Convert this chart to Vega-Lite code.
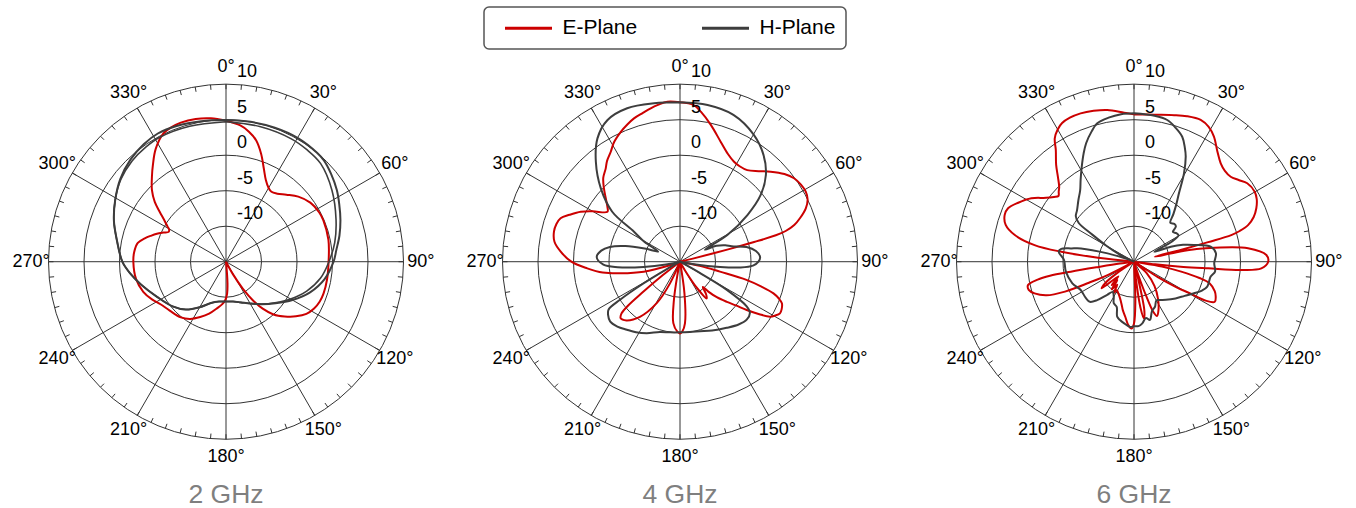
{
"$schema": "https://vega.github.io/schema/vega-lite/v6.json",
"padding": 0,
"background": "white",
"spacing": 2,
"config": {"view": {"stroke": null}, "font": "Liberation Sans", "legend": {"strokeWidth": 1.5}, "line": {"interpolate": "catmull-rom"}},
"datasets": {
"spokes": [{"angle":0},{"angle":30},{"angle":60},{"angle":90},{"angle":120},{"angle":150}],
"ticks": [{"angle":0},{"angle":5},{"angle":10},{"angle":15},{"angle":20},{"angle":25},{"angle":30},{"angle":35},{"angle":40},{"angle":45},{"angle":50},{"angle":55},{"angle":60},{"angle":65},{"angle":70},{"angle":75},{"angle":80},{"angle":85},{"angle":90},{"angle":95},{"angle":100},{"angle":105},{"angle":110},{"angle":115},{"angle":120},{"angle":125},{"angle":130},{"angle":135},{"angle":140},{"angle":145},{"angle":150},{"angle":155},{"angle":160},{"angle":165},{"angle":170},{"angle":175},{"angle":180},{"angle":185},{"angle":190},{"angle":195},{"angle":200},{"angle":205},{"angle":210},{"angle":215},{"angle":220},{"angle":225},{"angle":230},{"angle":235},{"angle":240},{"angle":245},{"angle":250},{"angle":255},{"angle":260},{"angle":265},{"angle":270},{"angle":275},{"angle":280},{"angle":285},{"angle":290},{"angle":295},{"angle":300},{"angle":305},{"angle":310},{"angle":315},{"angle":320},{"angle":325},{"angle":330},{"angle":335},{"angle":340},{"angle":345},{"angle":350},{"angle":355}],
"angleLabels": [{"angle":0,"label":"0°"},{"angle":30,"label":"30°"},{"angle":60,"label":"60°"},{"angle":90,"label":"90°"},{"angle":120,"label":"120°"},{"angle":150,"label":"150°"},{"angle":180,"label":"180°"},{"angle":210,"label":"210°"},{"angle":240,"label":"240°"},{"angle":270,"label":"270°"},{"angle":300,"label":"300°"},{"angle":330,"label":"330°"}],
"rings": [{"db":10,"label":"10"},{"db":5,"label":"5"},{"db":0,"label":"0"},{"db":-5,"label":"-5"},{"db":-10,"label":"-10"}],
"e2": [{"angle":0,"db":4.85},{"angle":6,"db":4.3},{"angle":10,"db":3.6},{"angle":14,"db":2.6},{"angle":18,"db":1.0},{"angle":22,"db":-0.8},{"angle":26,"db":-2.2},{"angle":30,"db":-3.0},{"angle":33,"db":-3.25},{"angle":37,"db":-3.0},{"angle":42,"db":-2.3},{"angle":48,"db":-1.3},{"angle":55,"db":-0.5},{"angle":62,"db":-0.15},{"angle":67,"db":-0.1},{"angle":78,"db":-0.25},{"angle":90,"db":-0.55},{"angle":100,"db":-0.55},{"angle":108,"db":-0.55},{"angle":113,"db":-0.65},{"angle":118,"db":-0.95},{"angle":123,"db":-1.5},{"angle":128,"db":-2.5},{"angle":133,"db":-3.7},{"angle":138,"db":-5.0},{"angle":142,"db":-6.6},{"angle":145,"db":-8.3},{"angle":148,"db":-10.5},{"angle":151,"db":-13},{"angle":155,"db":-15},{"angle":172,"db":-15},{"angle":176,"db":-12},{"angle":178,"db":-10.5},{"angle":181,"db":-9.6},{"angle":185,"db":-9.0},{"angle":191,"db":-8.3},{"angle":198,"db":-7.3},{"angle":205,"db":-6.4},{"angle":212,"db":-5.5},{"angle":219,"db":-4.9},{"angle":229,"db":-4.5},{"angle":237,"db":-4.0},{"angle":243,"db":-3.3},{"angle":250,"db":-2.6},{"angle":259,"db":-2.1},{"angle":270,"db":-1.95},{"angle":276,"db":-2.0},{"angle":282,"db":-2.3},{"angle":286,"db":-3.1},{"angle":289,"db":-3.8},{"angle":292,"db":-4.5},{"angle":295,"db":-5.3},{"angle":297.5,"db":-5.9},{"angle":299.5,"db":-5.8},{"angle":301,"db":-5.4},{"angle":304,"db":-4.5},{"angle":307,"db":-3.3},{"angle":310,"db":-1.9},{"angle":314,"db":-0.5},{"angle":319,"db":0.9},{"angle":323,"db":2.1},{"angle":328,"db":3.7},{"angle":334,"db":5.1},{"angle":338,"db":5.45},{"angle":342,"db":5.6},{"angle":348,"db":5.55},{"angle":354,"db":5.3},{"angle":360,"db":4.85}],
"h2a": [{"angle":0,"db":4.95},{"angle":10,"db":5.0},{"angle":20,"db":5.1},{"angle":30,"db":5.15},{"angle":40,"db":5.0},{"angle":44,"db":4.85},{"angle":50,"db":4.3},{"angle":57,"db":3.6},{"angle":63,"db":2.9},{"angle":70,"db":2.15},{"angle":77,"db":1.4},{"angle":84,"db":0.62},{"angle":90,"db":0.15},{"angle":100,"db":-0.9},{"angle":110,"db":-2.4},{"angle":120,"db":-4.2},{"angle":130,"db":-5.9},{"angle":140,"db":-7.2},{"angle":150,"db":-8.2},{"angle":160,"db":-8.9},{"angle":170,"db":-9.3},{"angle":180,"db":-9.4},{"angle":190,"db":-9.3},{"angle":200,"db":-8.8},{"angle":210,"db":-7.6},{"angle":220,"db":-6.2},{"angle":230,"db":-5.2},{"angle":243,"db":-4.1},{"angle":255,"db":-2.6},{"angle":263,"db":-1.4},{"angle":270,"db":-0.4},{"angle":281,"db":0.65},{"angle":290,"db":1.8},{"angle":299,"db":2.85},{"angle":308,"db":3.9},{"angle":317,"db":4.7},{"angle":325,"db":5.2},{"angle":332,"db":5.45},{"angle":340,"db":5.35},{"angle":350,"db":5.1},{"angle":360,"db":4.95}],
"h2b": [{"angle":0,"db":4.72},{"angle":14,"db":4.62},{"angle":28,"db":4.6},{"angle":36,"db":4.45},{"angle":44,"db":4.2},{"angle":56,"db":3.0},{"angle":69,"db":1.6},{"angle":80,"db":0.55},{"angle":90,"db":-0.5},{"angle":100,"db":-1.5},{"angle":110,"db":-2.9},{"angle":120,"db":-4.5},{"angle":130,"db":-6.0},{"angle":140,"db":-7.2},{"angle":150,"db":-8.2},{"angle":160,"db":-8.9},{"angle":170,"db":-9.3},{"angle":180,"db":-9.4},{"angle":190,"db":-9.3},{"angle":200,"db":-8.8},{"angle":210,"db":-7.6},{"angle":220,"db":-6.2},{"angle":230,"db":-5.2},{"angle":243,"db":-4.1},{"angle":255,"db":-2.6},{"angle":263,"db":-1.4},{"angle":270,"db":-0.4},{"angle":281,"db":0.65},{"angle":290,"db":1.8},{"angle":299,"db":2.85},{"angle":308,"db":3.8},{"angle":317,"db":4.4},{"angle":325,"db":4.7},{"angle":332,"db":4.85},{"angle":345,"db":4.75},{"angle":360,"db":4.72}],
"e4": [{"angle":0,"db":7.45},{"angle":5,"db":7.15},{"angle":8,"db":6.3},{"angle":12.7,"db":4.75},{"angle":18.7,"db":2.85},{"angle":24,"db":1.6},{"angle":28.4,"db":1.0},{"angle":32,"db":0.85},{"angle":36.3,"db":1.0},{"angle":41,"db":1.9},{"angle":45.2,"db":3.0},{"angle":50,"db":4.2},{"angle":53.8,"db":4.9},{"angle":57.5,"db":5.2},{"angle":60.9,"db":5.27},{"angle":64,"db":5.0},{"angle":67,"db":4.25},{"angle":70,"db":3.0},{"angle":72.2,"db":1.9},{"angle":73.8,"db":0.5},{"angle":74.6,"db":-1.0},{"angle":75.1,"db":-4.2},{"angle":75.6,"db":-8.0},{"angle":76.5,"db":-13},{"angle":78,"db":-15},{"angle":100,"db":-15},{"angle":102,"db":-12},{"angle":104,"db":-9.2},{"angle":105.3,"db":-5.3},{"angle":107,"db":-3.0},{"angle":108.7,"db":-1.1},{"angle":110.5,"db":-0.1},{"angle":112.2,"db":0.5},{"angle":115,"db":0.8},{"angle":117.3,"db":0.85},{"angle":119.5,"db":0.4},{"angle":121.4,"db":-0.15},{"angle":123.5,"db":-1.6},{"angle":125.9,"db":-3.4},{"angle":128,"db":-5.0},{"angle":130.6,"db":-6.3},{"angle":134,"db":-7.8},{"angle":136.5,"db":-9.2},{"angle":138,"db":-10.2},{"angle":141,"db":-9.2},{"angle":144,"db":-8.6},{"angle":147,"db":-10.5},{"angle":150,"db":-13.5},{"angle":153,"db":-15},{"angle":170,"db":-15},{"angle":172,"db":-10.5},{"angle":175.4,"db":-6.3},{"angle":178,"db":-5.2},{"angle":180,"db":-4.9},{"angle":182,"db":-5.1},{"angle":186.2,"db":-6.3},{"angle":189,"db":-9.5},{"angle":191,"db":-13},{"angle":193,"db":-15},{"angle":202,"db":-15},{"angle":204.8,"db":-11.6},{"angle":209.3,"db":-8.3},{"angle":216,"db":-5.4},{"angle":222.4,"db":-3.8},{"angle":226.3,"db":-3.45},{"angle":228.5,"db":-4.0},{"angle":229.8,"db":-5.4},{"angle":230.7,"db":-8.2},{"angle":232,"db":-12},{"angle":234,"db":-15},{"angle":248,"db":-15},{"angle":250.5,"db":-13.6},{"angle":254.5,"db":-9.7},{"angle":258.9,"db":-6.5},{"angle":262,"db":-4.0},{"angle":265.9,"db":-1.9},{"angle":270,"db":0.3},{"angle":274.8,"db":1.86},{"angle":279,"db":2.9},{"angle":283.4,"db":3.25},{"angle":287,"db":3.2},{"angle":290,"db":2.9},{"angle":293,"db":1.9},{"angle":296.7,"db":0.66},{"angle":300,"db":-0.8},{"angle":304.5,"db":-2.6},{"angle":307,"db":-2.2},{"angle":310.5,"db":-1.25},{"angle":314,"db":-0.1},{"angle":317.5,"db":1.0},{"angle":321.5,"db":1.8},{"angle":324,"db":2.5},{"angle":327.8,"db":3.3},{"angle":331,"db":4.2},{"angle":335.5,"db":5.1},{"angle":339,"db":5.7},{"angle":342.2,"db":6.2},{"angle":346,"db":6.6},{"angle":349.2,"db":7.0},{"angle":352,"db":7.3},{"angle":355.5,"db":7.6},{"angle":360,"db":7.45}],
"h4": [{"angle":0,"db":7.45},{"angle":10,"db":7.4},{"angle":20,"db":7.0},{"angle":30,"db":5.7},{"angle":38,"db":4.1},{"angle":44.7,"db":2.2},{"angle":50.4,"db":-0.25},{"angle":55.3,"db":-3.45},{"angle":60.6,"db":-7.35},{"angle":64.4,"db":-11.1},{"angle":66.4,"db":-9.4},{"angle":70,"db":-8.2},{"angle":73.4,"db":-7.4},{"angle":77.6,"db":-5.4},{"angle":82,"db":-4.2},{"angle":86.6,"db":-3.7},{"angle":90,"db":-3.95},{"angle":93.1,"db":-4.7},{"angle":95.5,"db":-6.5},{"angle":97.5,"db":-9.3},{"angle":100,"db":-13},{"angle":103,"db":-15},{"angle":116,"db":-15},{"angle":119.5,"db":-11.8},{"angle":121,"db":-7.3},{"angle":123.8,"db":-3.7},{"angle":126.2,"db":-2.8},{"angle":131,"db":-2.55},{"angle":137,"db":-2.9},{"angle":144.8,"db":-3.6},{"angle":155,"db":-4.3},{"angle":164,"db":-4.8},{"angle":172,"db":-5.0},{"angle":180,"db":-5.05},{"angle":188,"db":-4.95},{"angle":196,"db":-4.7},{"angle":205,"db":-3.9},{"angle":212,"db":-3.3},{"angle":218,"db":-2.85},{"angle":224,"db":-2.3},{"angle":229.5,"db":-2.05},{"angle":233.5,"db":-2.4},{"angle":236.2,"db":-2.9},{"angle":237.6,"db":-5.0},{"angle":239.2,"db":-9.0},{"angle":240.5,"db":-12.8},{"angle":242,"db":-15},{"angle":256,"db":-15},{"angle":258.5,"db":-13},{"angle":261.8,"db":-9.8},{"angle":265,"db":-6.2},{"angle":267.8,"db":-4.2},{"angle":273.2,"db":-3.25},{"angle":278,"db":-3.8},{"angle":281.9,"db":-4.9},{"angle":286,"db":-7.0},{"angle":290.4,"db":-9.7},{"angle":295,"db":-11.6},{"angle":299,"db":-9.3},{"angle":303.1,"db":-7.27},{"angle":306.4,"db":-3.14},{"angle":312.8,"db":0.2},{"angle":319.9,"db":3.4},{"angle":326.2,"db":5.9},{"angle":332.8,"db":7.4},{"angle":341,"db":7.85},{"angle":350.7,"db":7.6},{"angle":360,"db":7.45}],
"e6": [{"angle":0,"db":5.75},{"angle":8,"db":5.9},{"angle":15.3,"db":6.4},{"angle":20,"db":6.8},{"angle":25.2,"db":7.06},{"angle":29,"db":6.7},{"angle":32.6,"db":5.9},{"angle":37,"db":4.5},{"angle":41.4,"db":3.47},{"angle":45,"db":3.1},{"angle":48.7,"db":3.13},{"angle":52,"db":3.7},{"angle":55.3,"db":4.4},{"angle":59.9,"db":4.65},{"angle":63,"db":4.4},{"angle":66.4,"db":3.8},{"angle":69.5,"db":3.0},{"angle":72.2,"db":1.87},{"angle":73.8,"db":0.5},{"angle":74.7,"db":-0.8},{"angle":75.2,"db":-4.2},{"angle":75.8,"db":-8.1},{"angle":76.5,"db":-12},{"angle":77.5,"db":-8.5},{"angle":78.5,"db":-6.0},{"angle":80.2,"db":-3.47},{"angle":83.3,"db":1.17},{"angle":87.1,"db":3.66},{"angle":90,"db":3.9},{"angle":93,"db":2.96},{"angle":94.4,"db":0.16},{"angle":95.1,"db":-4.5},{"angle":96,"db":-8},{"angle":97,"db":-12},{"angle":98.5,"db":-15},{"angle":100,"db":-11},{"angle":101.9,"db":-8.2},{"angle":104,"db":-5.5},{"angle":106,"db":-3.9},{"angle":110,"db":-2.9},{"angle":113,"db":-2.5},{"angle":116.4,"db":-2.3},{"angle":118.5,"db":-3.5},{"angle":119.5,"db":-6},{"angle":121,"db":-8},{"angle":123,"db":-11},{"angle":126,"db":-15},{"angle":132,"db":-12.6},{"angle":140,"db":-10.5},{"angle":147,"db":-8.8},{"angle":153,"db":-7.4},{"angle":157,"db":-6.7},{"angle":159,"db":-7.5},{"angle":160.5,"db":-10},{"angle":162,"db":-13},{"angle":164,"db":-15},{"angle":166,"db":-13},{"angle":168,"db":-8.0},{"angle":170,"db":-6.9},{"angle":172,"db":-8.5},{"angle":174,"db":-13},{"angle":176,"db":-15},{"angle":178,"db":-9.5},{"angle":180,"db":-6.3},{"angle":182,"db":-5.6},{"angle":185,"db":-6.0},{"angle":189,"db":-7.15},{"angle":193,"db":-8.0},{"angle":196,"db":-8.7},{"angle":201,"db":-9.5},{"angle":206,"db":-10.0},{"angle":211,"db":-10.3},{"angle":213,"db":-9.7},{"angle":216,"db":-11},{"angle":219,"db":-10},{"angle":222,"db":-11.5},{"angle":223.7,"db":-10.45},{"angle":227,"db":-12},{"angle":230.5,"db":-9.1},{"angle":233.3,"db":-9.9},{"angle":236,"db":-12},{"angle":239,"db":-15},{"angle":241,"db":-15},{"angle":243,"db":-11},{"angle":245,"db":-8},{"angle":246.6,"db":-4.4},{"angle":249,"db":-1.8},{"angle":252.3,"db":-0.3},{"angle":255,"db":0.35},{"angle":257.6,"db":0.28},{"angle":259.5,"db":-1.2},{"angle":260.5,"db":-3},{"angle":261,"db":-6},{"angle":261.5,"db":-9.8},{"angle":262.5,"db":-13},{"angle":264,"db":-15},{"angle":275,"db":-15},{"angle":276.3,"db":-9.9},{"angle":277.8,"db":-4.66},{"angle":279.5,"db":-0.8},{"angle":282.6,"db":2.2},{"angle":286,"db":3.8},{"angle":289.9,"db":4.37},{"angle":293,"db":4.27},{"angle":297,"db":3.3},{"angle":301.7,"db":2.0},{"angle":306,"db":0.3},{"angle":309,"db":-0.5},{"angle":311,"db":-0.9},{"angle":313,"db":-0.5},{"angle":315,"db":-0.1},{"angle":318,"db":1.0},{"angle":321.2,"db":2.5},{"angle":325,"db":4.2},{"angle":327.3,"db":5.66},{"angle":330,"db":6.5},{"angle":332.6,"db":7.0},{"angle":336,"db":7.2},{"angle":340.2,"db":7.2},{"angle":345,"db":7.0},{"angle":350,"db":6.7},{"angle":356.2,"db":6.03},{"angle":360,"db":5.75}],
"h6": [{"angle":0,"db":5.9},{"angle":8,"db":5.75},{"angle":13.2,"db":5.5},{"angle":17,"db":4.8},{"angle":21.1,"db":3.87},{"angle":24,"db":2.6},{"angle":26.2,"db":1.5},{"angle":29.5,"db":-0.7},{"angle":33.3,"db":-3.47},{"angle":36.5,"db":-5.0},{"angle":39.6,"db":-6.3},{"angle":43,"db":-7.5},{"angle":47,"db":-7.2},{"angle":50,"db":-7.3},{"angle":52.5,"db":-8.1},{"angle":56,"db":-7.8},{"angle":59.3,"db":-7.7},{"angle":62,"db":-9.0},{"angle":64,"db":-11.8},{"angle":67.8,"db":-9.4},{"angle":71,"db":-7.7},{"angle":74.4,"db":-6.2},{"angle":78.9,"db":-4.0},{"angle":84.1,"db":-3.4},{"angle":91,"db":-3.7},{"angle":97,"db":-3.5},{"angle":101,"db":-4.0},{"angle":108.8,"db":-4.1},{"angle":113,"db":-4.6},{"angle":117.8,"db":-5.45},{"angle":124,"db":-6.4},{"angle":131.5,"db":-7.2},{"angle":140,"db":-8.0},{"angle":146,"db":-8.5},{"angle":150,"db":-8.7},{"angle":155,"db":-8.0},{"angle":160,"db":-7.6},{"angle":164.7,"db":-6.5},{"angle":168,"db":-6.9},{"angle":172.3,"db":-6.24},{"angle":176,"db":-5.9},{"angle":180,"db":-5.9},{"angle":183.5,"db":-5.8},{"angle":189,"db":-6.2},{"angle":193.5,"db":-6.55},{"angle":197,"db":-6.9},{"angle":201,"db":-8.2},{"angle":206,"db":-8.5},{"angle":210,"db":-9.3},{"angle":215,"db":-9.8},{"angle":219,"db":-9.0},{"angle":223.8,"db":-7.5},{"angle":227.7,"db":-6.6},{"angle":232.8,"db":-6.5},{"angle":242,"db":-6.5},{"angle":250.7,"db":-5.8},{"angle":261.7,"db":-5.3},{"angle":271.4,"db":-5.14},{"angle":277.6,"db":-4.3},{"angle":280,"db":-4.6},{"angle":282,"db":-6.0},{"angle":284.1,"db":-7.3},{"angle":287.5,"db":-11.1},{"angle":291,"db":-14},{"angle":294,"db":-15},{"angle":297,"db":-12.5},{"angle":300,"db":-10.5},{"angle":303,"db":-8.0},{"angle":305,"db":-5.5},{"angle":308,"db":-4.6},{"angle":312,"db":-4.2},{"angle":318,"db":-3.3},{"angle":323,"db":-2.4},{"angle":327,"db":-1.2},{"angle":331,"db":0.2},{"angle":335,"db":1.8},{"angle":338,"db":3.0},{"angle":342,"db":4.3},{"angle":345,"db":5.15},{"angle":350,"db":5.6},{"angle":355,"db":5.85},{"angle":360,"db":5.9}]
},
"hconcat": [
{"width": 452, "height": 508,
"title": {"text": "2 GHz", "orient": "bottom", "frame": "group", "anchor": "middle", "offset": -5.5, "baseline": "alphabetic", "fontSize": 26.5, "fontWeight": "normal", "color": "#7f7f7f", "font": "Liberation Sans"},
"layer": [
{"data": {"name": "rings"}, "transform": [{"calculate": "datum.db+15", "as": "rr"}], "mark": {"type": "point", "shape": "circle", "filled": false, "stroke": "#333", "strokeWidth": 1, "opacity": 1}, "encoding": {"x": {"datum": 0, "type": "quantitative", "scale": {"domain": [-31.831, 31.831], "nice": false, "zero": false}, "axis": null}, "y": {"datum": 0, "type": "quantitative", "scale": {"domain": [-34.69, 36.86], "nice": false, "zero": false}, "axis": null}, "size": {"field": "rr", "type": "quantitative", "scale": {"type": "pow", "exponent": 2, "domain": [0, 25], "range": [0, 126025], "zero": true}, "legend": null}}},
{"data": {"name": "spokes"}, "transform": [{"calculate": "25*sin(datum.angle*PI/180)", "as": "xa"}, {"calculate": "25*cos(datum.angle*PI/180)", "as": "ya"}, {"calculate": "-25*sin(datum.angle*PI/180)", "as": "xb"}, {"calculate": "-25*cos(datum.angle*PI/180)", "as": "yb"}], "mark": {"type": "rule", "stroke": "#333", "strokeWidth": 1}, "encoding": {"x": {"field": "xa", "type": "quantitative", "axis": null}, "y": {"field": "ya", "type": "quantitative", "axis": null}, "x2": {"field": "xb"}, "y2": {"field": "yb"}}},
{"data": {"name": "ticks"}, "transform": [{"calculate": "24.3*sin(datum.angle*PI/180)", "as": "xa"}, {"calculate": "24.3*cos(datum.angle*PI/180)", "as": "ya"}, {"calculate": "25*sin(datum.angle*PI/180)", "as": "xb"}, {"calculate": "25*cos(datum.angle*PI/180)", "as": "yb"}], "mark": {"type": "rule", "stroke": "#333", "strokeWidth": 1}, "encoding": {"x": {"field": "xa", "type": "quantitative", "axis": null}, "y": {"field": "ya", "type": "quantitative", "axis": null}, "x2": {"field": "xb"}, "y2": {"field": "yb"}}},
{"data": {"name": "e2"}, "transform": [{"calculate": "'E-Plane'", "as": "plane"}, {"calculate": "(datum.db+15)*sin(datum.angle*PI/180)", "as": "x"}, {"calculate": "(datum.db+15)*cos(datum.angle*PI/180)", "as": "y"}], "mark": {"type": "line", "strokeWidth": 2}, "encoding": {"x": {"field": "x", "type": "quantitative", "axis": null}, "y": {"field": "y", "type": "quantitative", "axis": null}, "order": {"field": "angle", "type": "quantitative"}, "color": {"field": "plane", "type": "nominal", "scale": {"domain": ["E-Plane", "H-Plane"], "range": ["#cc0000", "#3d3d3d"]}, "legend": {"title": null, "orient": "none", "legendX": 484, "legendY": 7, "direction": "horizontal", "symbolType": "M-4.7,0H4.7", "symbolSize": 100, "symbolStrokeWidth": 3, "symbolOffset": 23.5, "labelOffset": 23.5, "labelFontSize": 21, "labelFont": "Liberation Sans", "labelColor": "#000", "padding": 10.5, "strokeColor": "#555", "cornerRadius": 5, "fillColor": "#fff", "columnPadding": 54, "labelLimit": 300}}}},
{"data": {"name": "h2a"}, "transform": [{"calculate": "'H-Plane'", "as": "plane"}, {"calculate": "(datum.db+15)*sin(datum.angle*PI/180)", "as": "x"}, {"calculate": "(datum.db+15)*cos(datum.angle*PI/180)", "as": "y"}], "mark": {"type": "line", "strokeWidth": 2}, "encoding": {"x": {"field": "x", "type": "quantitative", "axis": null}, "y": {"field": "y", "type": "quantitative", "axis": null}, "order": {"field": "angle", "type": "quantitative"}, "color": {"field": "plane", "type": "nominal"}}},
{"data": {"name": "h2b"}, "transform": [{"calculate": "'H-Plane'", "as": "plane"}, {"calculate": "(datum.db+15)*sin(datum.angle*PI/180)", "as": "x"}, {"calculate": "(datum.db+15)*cos(datum.angle*PI/180)", "as": "y"}], "mark": {"type": "line", "strokeWidth": 1.6}, "encoding": {"x": {"field": "x", "type": "quantitative", "axis": null}, "y": {"field": "y", "type": "quantitative", "axis": null}, "order": {"field": "angle", "type": "quantitative"}, "color": {"field": "plane", "type": "nominal"}}},
{"data": {"name": "angleLabels"}, "transform": [{"calculate": "27.45*sin(datum.angle*PI/180)", "as": "x"}, {"calculate": "27.45*cos(datum.angle*PI/180)", "as": "y"}], "mark": {"type": "text", "fontSize": 18, "font": "Liberation Sans", "align": "center", "baseline": "middle", "fill": "#000"}, "encoding": {"x": {"field": "x", "type": "quantitative", "axis": null}, "y": {"field": "y", "type": "quantitative", "axis": null}, "text": {"field": "label", "type": "nominal"}}},
{"data": {"name": "rings"}, "transform": [{"calculate": "datum.db+15", "as": "y"}], "mark": {"type": "text", "fontSize": 18, "font": "Liberation Sans", "align": "left", "baseline": "alphabetic", "dx": 11, "dy": -7, "fill": "#000"}, "encoding": {"x": {"datum": 0, "type": "quantitative", "axis": null}, "y": {"field": "y", "type": "quantitative", "axis": null}, "text": {"field": "label", "type": "nominal"}}}
]},
{"width": 452, "height": 508,
"title": {"text": "4 GHz", "orient": "bottom", "frame": "group", "anchor": "middle", "offset": -5.5, "baseline": "alphabetic", "fontSize": 26.5, "fontWeight": "normal", "color": "#7f7f7f", "font": "Liberation Sans"},
"layer": [
{"data": {"name": "rings"}, "transform": [{"calculate": "datum.db+15", "as": "rr"}], "mark": {"type": "point", "shape": "circle", "filled": false, "stroke": "#333", "strokeWidth": 1, "opacity": 1}, "encoding": {"x": {"datum": 0, "type": "quantitative", "scale": {"domain": [-31.831, 31.831], "nice": false, "zero": false}, "axis": null}, "y": {"datum": 0, "type": "quantitative", "scale": {"domain": [-34.69, 36.86], "nice": false, "zero": false}, "axis": null}, "size": {"field": "rr", "type": "quantitative", "scale": {"type": "pow", "exponent": 2, "domain": [0, 25], "range": [0, 126025], "zero": true}, "legend": null}}},
{"data": {"name": "spokes"}, "transform": [{"calculate": "25*sin(datum.angle*PI/180)", "as": "xa"}, {"calculate": "25*cos(datum.angle*PI/180)", "as": "ya"}, {"calculate": "-25*sin(datum.angle*PI/180)", "as": "xb"}, {"calculate": "-25*cos(datum.angle*PI/180)", "as": "yb"}], "mark": {"type": "rule", "stroke": "#333", "strokeWidth": 1}, "encoding": {"x": {"field": "xa", "type": "quantitative", "axis": null}, "y": {"field": "ya", "type": "quantitative", "axis": null}, "x2": {"field": "xb"}, "y2": {"field": "yb"}}},
{"data": {"name": "ticks"}, "transform": [{"calculate": "24.3*sin(datum.angle*PI/180)", "as": "xa"}, {"calculate": "24.3*cos(datum.angle*PI/180)", "as": "ya"}, {"calculate": "25*sin(datum.angle*PI/180)", "as": "xb"}, {"calculate": "25*cos(datum.angle*PI/180)", "as": "yb"}], "mark": {"type": "rule", "stroke": "#333", "strokeWidth": 1}, "encoding": {"x": {"field": "xa", "type": "quantitative", "axis": null}, "y": {"field": "ya", "type": "quantitative", "axis": null}, "x2": {"field": "xb"}, "y2": {"field": "yb"}}},
{"data": {"name": "e4"}, "transform": [{"calculate": "'E-Plane'", "as": "plane"}, {"calculate": "(datum.db+15)*sin(datum.angle*PI/180)", "as": "x"}, {"calculate": "(datum.db+15)*cos(datum.angle*PI/180)", "as": "y"}], "mark": {"type": "line", "strokeWidth": 2}, "encoding": {"x": {"field": "x", "type": "quantitative", "axis": null}, "y": {"field": "y", "type": "quantitative", "axis": null}, "order": {"field": "angle", "type": "quantitative"}, "color": {"field": "plane", "type": "nominal"}}},
{"data": {"name": "h4"}, "transform": [{"calculate": "'H-Plane'", "as": "plane"}, {"calculate": "(datum.db+15)*sin(datum.angle*PI/180)", "as": "x"}, {"calculate": "(datum.db+15)*cos(datum.angle*PI/180)", "as": "y"}], "mark": {"type": "line", "strokeWidth": 2}, "encoding": {"x": {"field": "x", "type": "quantitative", "axis": null}, "y": {"field": "y", "type": "quantitative", "axis": null}, "order": {"field": "angle", "type": "quantitative"}, "color": {"field": "plane", "type": "nominal"}}},
{"data": {"name": "angleLabels"}, "transform": [{"calculate": "27.45*sin(datum.angle*PI/180)", "as": "x"}, {"calculate": "27.45*cos(datum.angle*PI/180)", "as": "y"}], "mark": {"type": "text", "fontSize": 18, "font": "Liberation Sans", "align": "center", "baseline": "middle", "fill": "#000"}, "encoding": {"x": {"field": "x", "type": "quantitative", "axis": null}, "y": {"field": "y", "type": "quantitative", "axis": null}, "text": {"field": "label", "type": "nominal"}}},
{"data": {"name": "rings"}, "transform": [{"calculate": "datum.db+15", "as": "y"}], "mark": {"type": "text", "fontSize": 18, "font": "Liberation Sans", "align": "left", "baseline": "alphabetic", "dx": 11, "dy": -7, "fill": "#000"}, "encoding": {"x": {"datum": 0, "type": "quantitative", "axis": null}, "y": {"field": "y", "type": "quantitative", "axis": null}, "text": {"field": "label", "type": "nominal"}}}
]},
{"width": 452, "height": 508,
"title": {"text": "6 GHz", "orient": "bottom", "frame": "group", "anchor": "middle", "offset": -5.5, "baseline": "alphabetic", "fontSize": 26.5, "fontWeight": "normal", "color": "#7f7f7f", "font": "Liberation Sans"},
"layer": [
{"data": {"name": "rings"}, "transform": [{"calculate": "datum.db+15", "as": "rr"}], "mark": {"type": "point", "shape": "circle", "filled": false, "stroke": "#333", "strokeWidth": 1, "opacity": 1}, "encoding": {"x": {"datum": 0, "type": "quantitative", "scale": {"domain": [-31.831, 31.831], "nice": false, "zero": false}, "axis": null}, "y": {"datum": 0, "type": "quantitative", "scale": {"domain": [-34.69, 36.86], "nice": false, "zero": false}, "axis": null}, "size": {"field": "rr", "type": "quantitative", "scale": {"type": "pow", "exponent": 2, "domain": [0, 25], "range": [0, 126025], "zero": true}, "legend": null}}},
{"data": {"name": "spokes"}, "transform": [{"calculate": "25*sin(datum.angle*PI/180)", "as": "xa"}, {"calculate": "25*cos(datum.angle*PI/180)", "as": "ya"}, {"calculate": "-25*sin(datum.angle*PI/180)", "as": "xb"}, {"calculate": "-25*cos(datum.angle*PI/180)", "as": "yb"}], "mark": {"type": "rule", "stroke": "#333", "strokeWidth": 1}, "encoding": {"x": {"field": "xa", "type": "quantitative", "axis": null}, "y": {"field": "ya", "type": "quantitative", "axis": null}, "x2": {"field": "xb"}, "y2": {"field": "yb"}}},
{"data": {"name": "ticks"}, "transform": [{"calculate": "24.3*sin(datum.angle*PI/180)", "as": "xa"}, {"calculate": "24.3*cos(datum.angle*PI/180)", "as": "ya"}, {"calculate": "25*sin(datum.angle*PI/180)", "as": "xb"}, {"calculate": "25*cos(datum.angle*PI/180)", "as": "yb"}], "mark": {"type": "rule", "stroke": "#333", "strokeWidth": 1}, "encoding": {"x": {"field": "xa", "type": "quantitative", "axis": null}, "y": {"field": "ya", "type": "quantitative", "axis": null}, "x2": {"field": "xb"}, "y2": {"field": "yb"}}},
{"data": {"name": "e6"}, "transform": [{"calculate": "'E-Plane'", "as": "plane"}, {"calculate": "(datum.db+15)*sin(datum.angle*PI/180)", "as": "x"}, {"calculate": "(datum.db+15)*cos(datum.angle*PI/180)", "as": "y"}], "mark": {"type": "line", "strokeWidth": 2}, "encoding": {"x": {"field": "x", "type": "quantitative", "axis": null}, "y": {"field": "y", "type": "quantitative", "axis": null}, "order": {"field": "angle", "type": "quantitative"}, "color": {"field": "plane", "type": "nominal"}}},
{"data": {"name": "h6"}, "transform": [{"calculate": "'H-Plane'", "as": "plane"}, {"calculate": "(datum.db+15)*sin(datum.angle*PI/180)", "as": "x"}, {"calculate": "(datum.db+15)*cos(datum.angle*PI/180)", "as": "y"}], "mark": {"type": "line", "strokeWidth": 2}, "encoding": {"x": {"field": "x", "type": "quantitative", "axis": null}, "y": {"field": "y", "type": "quantitative", "axis": null}, "order": {"field": "angle", "type": "quantitative"}, "color": {"field": "plane", "type": "nominal"}}},
{"data": {"name": "angleLabels"}, "transform": [{"calculate": "27.45*sin(datum.angle*PI/180)", "as": "x"}, {"calculate": "27.45*cos(datum.angle*PI/180)", "as": "y"}], "mark": {"type": "text", "fontSize": 18, "font": "Liberation Sans", "align": "center", "baseline": "middle", "fill": "#000"}, "encoding": {"x": {"field": "x", "type": "quantitative", "axis": null}, "y": {"field": "y", "type": "quantitative", "axis": null}, "text": {"field": "label", "type": "nominal"}}},
{"data": {"name": "rings"}, "transform": [{"calculate": "datum.db+15", "as": "y"}], "mark": {"type": "text", "fontSize": 18, "font": "Liberation Sans", "align": "left", "baseline": "alphabetic", "dx": 11, "dy": -7, "fill": "#000"}, "encoding": {"x": {"datum": 0, "type": "quantitative", "axis": null}, "y": {"field": "y", "type": "quantitative", "axis": null}, "text": {"field": "label", "type": "nominal"}}}
]}
]
}
